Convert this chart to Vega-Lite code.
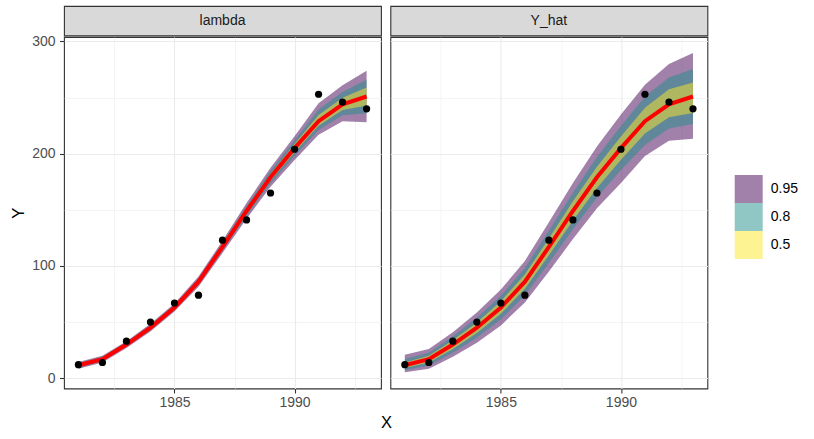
{
  "$schema": "https://vega.github.io/schema/vega-lite/v6.json",
  "background": "white",
  "autosize": {"type": "pad"},
  "padding": {"left": 9, "top": 5, "right": 0, "bottom": 0},
  "datasets": {
    "d": [
      {"panel": "lambda", "year": 1981, "obs": 12, "med": 11.5, "lo95": 8.5, "hi95": 14.5, "lo80": 9.6, "hi80": 13.4, "lo50": 10.5, "hi50": 12.5},
      {"panel": "lambda", "year": 1982, "obs": 14, "med": 17, "lo95": 14, "hi95": 20, "lo80": 15, "hi80": 19, "lo50": 16, "hi50": 18},
      {"panel": "lambda", "year": 1983, "obs": 33, "med": 30, "lo95": 27, "hi95": 33, "lo80": 28, "hi80": 32, "lo50": 29, "hi50": 31},
      {"panel": "lambda", "year": 1984, "obs": 50, "med": 45, "lo95": 41.5, "hi95": 48.5, "lo80": 42.7, "hi80": 47.3, "lo50": 43.8, "hi50": 46.2},
      {"panel": "lambda", "year": 1985, "obs": 67, "med": 63, "lo95": 59.5, "hi95": 66.5, "lo80": 60.7, "hi80": 65.3, "lo50": 61.8, "hi50": 64.2},
      {"panel": "lambda", "year": 1986, "obs": 74, "med": 86, "lo95": 81.5, "hi95": 90.5, "lo80": 83, "hi80": 89, "lo50": 84.5, "hi50": 87.5},
      {"panel": "lambda", "year": 1987, "obs": 123, "med": 117, "lo95": 111.5, "hi95": 122.5, "lo80": 113.4, "hi80": 120.6, "lo50": 115.1, "hi50": 118.9},
      {"panel": "lambda", "year": 1988, "obs": 141, "med": 149, "lo95": 142, "hi95": 156, "lo80": 144.5, "hi80": 153.5, "lo50": 146.6, "hi50": 151.4},
      {"panel": "lambda", "year": 1989, "obs": 165, "med": 179, "lo95": 170.5, "hi95": 187.5, "lo80": 173.5, "hi80": 184.5, "lo50": 176.1, "hi50": 181.9},
      {"panel": "lambda", "year": 1990, "obs": 204, "med": 205, "lo95": 194.5, "hi95": 215.5, "lo80": 198.2, "hi80": 211.8, "lo50": 201.4, "hi50": 208.6},
      {"panel": "lambda", "year": 1991, "obs": 253, "med": 229, "lo95": 217, "hi95": 245, "lo80": 221.2, "hi80": 239.4, "lo50": 225, "hi50": 234.5},
      {"panel": "lambda", "year": 1992, "obs": 246, "med": 244, "lo95": 229, "hi95": 261, "lo80": 234.3, "hi80": 255, "lo50": 239, "hi50": 249.8},
      {"panel": "lambda", "year": 1993, "obs": 240, "med": 251, "lo95": 228, "hi95": 274, "lo80": 236, "hi80": 266, "lo50": 243, "hi50": 259},
      {"panel": "Y_hat", "year": 1981, "obs": 12, "med": 11.5, "lo95": 5.4, "hi95": 20.8, "lo80": 7, "hi80": 17, "lo50": 9, "hi50": 14},
      {"panel": "Y_hat", "year": 1982, "obs": 14, "med": 17, "lo95": 8.5, "hi95": 26, "lo80": 11.4, "hi80": 22.6, "lo50": 14, "hi50": 20},
      {"panel": "Y_hat", "year": 1983, "obs": 33, "med": 30, "lo95": 19, "hi95": 41, "lo80": 22.7, "hi80": 37.3, "lo50": 26.1, "hi50": 33.9},
      {"panel": "Y_hat", "year": 1984, "obs": 50, "med": 45, "lo95": 31.5, "hi95": 58.5, "lo80": 36.1, "hi80": 53.9, "lo50": 40.3, "hi50": 49.7},
      {"panel": "Y_hat", "year": 1985, "obs": 67, "med": 63, "lo95": 47, "hi95": 79, "lo80": 52.5, "hi80": 73.5, "lo50": 57.5, "hi50": 68.5},
      {"panel": "Y_hat", "year": 1986, "obs": 74, "med": 86, "lo95": 67.5, "hi95": 104.5, "lo80": 73.8, "hi80": 98.2, "lo50": 79.6, "hi50": 92.4},
      {"panel": "Y_hat", "year": 1987, "obs": 123, "med": 117, "lo95": 95, "hi95": 139, "lo80": 102.7, "hi80": 131.3, "lo50": 109.5, "hi50": 124.5},
      {"panel": "Y_hat", "year": 1988, "obs": 141, "med": 149, "lo95": 124, "hi95": 174, "lo80": 132.7, "hi80": 165.3, "lo50": 140.4, "hi50": 157.6},
      {"panel": "Y_hat", "year": 1989, "obs": 165, "med": 179, "lo95": 151.5, "hi95": 206.5, "lo80": 161, "hi80": 197, "lo50": 169.5, "hi50": 188.5},
      {"panel": "Y_hat", "year": 1990, "obs": 204, "med": 205, "lo95": 174, "hi95": 235, "lo80": 185.4, "hi80": 224.6, "lo50": 194.7, "hi50": 215.3},
      {"panel": "Y_hat", "year": 1991, "obs": 253, "med": 229, "lo95": 198, "hi95": 261.5, "lo80": 207.7, "hi80": 251, "lo50": 218, "hi50": 241},
      {"panel": "Y_hat", "year": 1992, "obs": 246, "med": 244, "lo95": 211.6, "hi95": 280, "lo80": 222.5, "hi80": 268, "lo50": 232.5, "hi50": 257.5},
      {"panel": "Y_hat", "year": 1993, "obs": 240, "med": 251, "lo95": 213.4, "hi95": 289.7, "lo80": 226.4, "hi80": 275.4, "lo50": 236.2, "hi50": 263.5}
    ]
  },
  "data": {"name": "d"},
  "spacing": -4.5,
  "vconcat": [
    {
      "bounds": "flush",
      "spacing": 9.4,
      "hconcat": [
        {
          "width": 317, "height": 29.5,
          "data": {"values": [{"label": "lambda"}]},
          "view": {"fill": "#d9d9d9", "stroke": "#333333", "strokeWidth": 1.1},
          "mark": {"type": "text", "fontSize": 14, "color": "#1a1a1a", "font": "Liberation Sans", "baseline": "middle", "align": "center"},
          "encoding": {"text": {"field": "label", "type": "nominal"}}
        },
        {
          "width": 317, "height": 29.5,
          "data": {"values": [{"label": "Y_hat"}]},
          "view": {"fill": "#d9d9d9", "stroke": "#333333", "strokeWidth": 1.1},
          "mark": {"type": "text", "fontSize": 14, "color": "#1a1a1a", "font": "Liberation Sans", "baseline": "middle", "align": "center"},
          "encoding": {"text": {"field": "label", "type": "nominal"}}
        }
      ]
    },
    {
      "bounds": "flush",
      "spacing": 9.4,
      "hconcat": [
        {
          "width": 317, "height": 351.5,
          "transform": [{"filter": "datum.panel === 'lambda'"}],
          "encoding": {
            "x": {"field": "year", "type": "quantitative",
              "scale": {"domain": [1980.4, 1993.6], "nice": false, "zero": false},
              "axis": {"title": "X", "values": [1982.5, 1985, 1987.5, 1990, 1992.5], "format": "d",
                "labelExpr": "datum.value % 5 === 0 ? datum.label : ''",
                "tickOpacity": {"condition": {"test": "datum.value % 5 === 0", "value": 1}, "value": 0},
                "gridWidth": {"condition": {"test": "datum.value % 5 === 0", "value": 1.1}, "value": 0.55},
                "labelPadding": 2.5, "titleX": 322, "titleAlign": "center", "titlePadding": 5}}
          },
          "layer": [
            {"mark": {"type": "area", "opacity": 0.5},
             "encoding": {
               "y": {"field": "lo95", "type": "quantitative", "scale": {"domain": [-9.18, 304], "nice": false, "zero": false},
                 "axis": {"title": "Y", "values": [0, 50, 100, 150, 200, 250, 300],
                   "labelExpr": "datum.value % 100 === 0 ? datum.label : ''",
                   "tickOpacity": {"condition": {"test": "datum.value % 100 === 0", "value": 1}, "value": 0},
                   "gridWidth": {"condition": {"test": "datum.value % 100 === 0", "value": 1.1}, "value": 0.55},
                   "labelPadding": 4.4, "titlePadding": 5.3}},
               "y2": {"field": "hi95"},
               "color": {"datum": "0.95", "type": "nominal", "scale": {"domain": ["0.95", "0.8", "0.5"], "range": ["#440154", "#21908C", "#FDE725"]},
                 "legend": {"orient": "none", "legendX": 670.7, "legendY": 169, "title": null, "symbolType": "square", "symbolSize": 784, "symbolStrokeWidth": 0, "symbolOpacity": 0.5, "rowPadding": 0, "labelFontSize": 14, "labelColor": "#000000", "labelOffset": 8, "padding": 0}}
             }},
            {"mark": {"type": "area", "opacity": 0.5},
             "encoding": {
               "y": {"field": "lo80", "type": "quantitative", "title": "Y"},
               "y2": {"field": "hi80"},
               "color": {"datum": "0.8", "type": "nominal"}
             }},
            {"mark": {"type": "area", "opacity": 0.5},
             "encoding": {
               "y": {"field": "lo50", "type": "quantitative", "title": "Y"},
               "y2": {"field": "hi50"},
               "color": {"datum": "0.5", "type": "nominal"}
             }},
            {"mark": {"type": "line", "color": "#ff0000", "strokeWidth": 4},
             "encoding": {"y": {"field": "med", "type": "quantitative", "title": "Y"}}},
            {"mark": {"type": "circle", "color": "#000000", "opacity": 1, "size": 52},
             "encoding": {"y": {"field": "obs", "type": "quantitative", "title": "Y"}}}
          ]
        },
        {
          "width": 317, "height": 351.5,
          "transform": [{"filter": "datum.panel === 'Y_hat'"}],
          "encoding": {
            "x": {"field": "year", "type": "quantitative",
              "scale": {"domain": [1980.4, 1993.6], "nice": false, "zero": false},
              "axis": {"title": null, "values": [1982.5, 1985, 1987.5, 1990, 1992.5], "format": "d",
                "labelExpr": "datum.value % 5 === 0 ? datum.label : ''",
                "tickOpacity": {"condition": {"test": "datum.value % 5 === 0", "value": 1}, "value": 0},
                "gridWidth": {"condition": {"test": "datum.value % 5 === 0", "value": 1.1}, "value": 0.55},
                "labelPadding": 2.5}}
          },
          "layer": [
            {"mark": {"type": "area", "opacity": 0.5},
             "encoding": {
               "y": {"field": "lo95", "type": "quantitative", "scale": {"domain": [-9.18, 304], "nice": false, "zero": false},
                 "axis": {"title": null, "values": [0, 50, 100, 150, 200, 250, 300], "labels": false, "ticks": false, "minExtent": 0,
                   "gridWidth": {"condition": {"test": "datum.value % 100 === 0", "value": 1.1}, "value": 0.55}}},
               "y2": {"field": "hi95"},
               "color": {"datum": "0.95", "type": "nominal", "scale": {"domain": ["0.95", "0.8", "0.5"], "range": ["#440154", "#21908C", "#FDE725"]},
                 "legend": {"orient": "none", "legendX": 670.7, "legendY": 169, "title": null, "symbolType": "square", "symbolSize": 784, "symbolStrokeWidth": 0, "symbolOpacity": 0.5, "rowPadding": 0, "labelFontSize": 14, "labelColor": "#000000", "labelOffset": 8, "padding": 0}}
             }},
            {"mark": {"type": "area", "opacity": 0.5},
             "encoding": {
               "y": {"field": "lo80", "type": "quantitative", "title": null},
               "y2": {"field": "hi80"},
               "color": {"datum": "0.8", "type": "nominal"}
             }},
            {"mark": {"type": "area", "opacity": 0.5},
             "encoding": {
               "y": {"field": "lo50", "type": "quantitative", "title": null},
               "y2": {"field": "hi50"},
               "color": {"datum": "0.5", "type": "nominal"}
             }},
            {"mark": {"type": "line", "color": "#ff0000", "strokeWidth": 4},
             "encoding": {"y": {"field": "med", "type": "quantitative", "title": null}}},
            {"mark": {"type": "circle", "color": "#000000", "opacity": 1, "size": 52},
             "encoding": {"y": {"field": "obs", "type": "quantitative", "title": null}}}
          ]
        }
      ]
    }
  ],
  "config": {
    "font": "Liberation Sans",
    "view": {"stroke": "#333333", "strokeWidth": 1.1},
    "axis": {
      "domain": false,
      "tickColor": "#333333", "tickSize": 4.5, "tickWidth": 1.1,
      "labelColor": "#4d4d4d", "labelFontSize": 14, "labelFont": "Liberation Sans",
      "titleColor": "#000000", "titleFontSize": 16.5, "titleFontWeight": "normal", "titleFont": "Liberation Sans",
      "gridColor": "#ebebeb", "grid": true
    },
    "legend": {"labelFont": "Liberation Sans"}
  }
}
